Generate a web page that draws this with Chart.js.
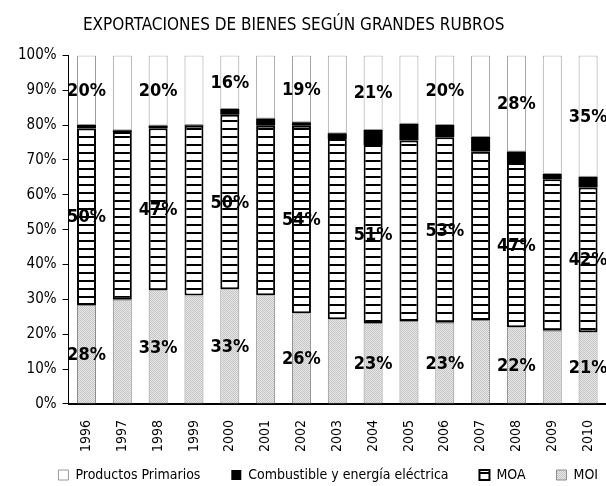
<!DOCTYPE html>
<html>
<head>
<meta charset="utf-8">
<script src="https://cdn.jsdelivr.net/npm/chart.js@4"></script>
<style>
    html, body { margin: 0; padding: 0; background: #fff; }
    canvas { display: block; }
</style>
</head>
<body>
<canvas id="chart" width="606" height="486"></canvas>
<script>
// Years on the x axis
const years = ['1996', '1997', '1998', '1999', '2000', '2001', '2002', '2003',
               '2004', '2005', '2006', '2007', '2008', '2009', '2010'];

// Share of each category (%)
const moi  = [28.4, 29.9, 32.6, 31.1, 32.9, 31.2, 26.0, 24.3, 23.2, 23.8, 23.3, 24.1, 22.0, 21.0, 20.6];
const moa  = [50.6, 48.1, 46.5, 48.7, 50.1, 48.6, 53.8, 51.7, 51.1, 51.8, 53.2, 48.3, 47.1, 43.5, 41.5];
const comb = [1.0, 0.5, 0.8, 0.2, 1.6, 2.1, 1.0, 1.7, 4.3, 4.8, 3.5, 4.2, 3.3, 1.5, 3.1];
const prim = [20.0, 21.5, 20.1, 20.0, 15.4, 18.1, 19.2, 22.3, 21.4, 19.6, 20.0, 23.4, 27.6, 34.0, 34.8];

// Labels printed on the bars (only every other year)
const moiLabels  = [28, null, 33, null, 33, null, 26, null, 23, null, 23, null, 22, null, 21];
const moaLabels  = [50, null, 47, null, 50, null, 54, null, 51, null, 53, null, 47, null, 42];
const primLabels = [20, null, 20, null, 16, null, 19, null, 21, null, 20, null, 28, null, 35];

const yTicks = [0, 10, 20, 30, 40, 50, 60, 70, 80, 90, 100];

const FONT = "'Liberation Sans Narrow', 'DejaVu Sans Condensed', 'Liberation Sans', sans-serif";

const canvas = document.getElementById('chart');
const ctx = canvas.getContext('2d');

// Horizontal stripes for MOA
function stripePattern() {
    const c = document.createElement('canvas');
    c.width = 8; c.height = 8;
    const g = c.getContext('2d');
    g.fillStyle = '#fff';
    g.fillRect(0, 0, 8, 8);
    g.fillStyle = '#000';
    g.fillRect(0, 0, 8, 2);
    return ctx.createPattern(c, 'repeat');
}

// Fine grey dots for MOI
function dotPattern() {
    const c = document.createElement('canvas');
    c.width = 2; c.height = 2;
    const g = c.getContext('2d');
    g.fillStyle = '#e8e8e8';
    g.fillRect(0, 0, 2, 2);
    g.fillStyle = '#c4c4c4';
    g.fillRect(0, 0, 1, 1);
    g.fillRect(1, 1, 1, 1);
    return ctx.createPattern(c, 'repeat');
}

// Draws the percentage in the middle of each labelled segment
const segmentLabels = {
    id: 'segmentLabels',
    afterDatasetsDraw(chart) {
        const c = chart.ctx;
        c.save();
        c.font = 'bold 18px ' + FONT;
        c.fillStyle = '#000';
        c.textAlign = 'center';
        c.textBaseline = 'middle';
        chart.data.datasets.forEach((ds, i) => {
            if (!ds.barLabels) return;
            chart.getDatasetMeta(i).data.forEach((bar, j) => {
                const val = ds.barLabels[j];
                if (val == null) return;
                const p = bar.getProps(['x', 'y', 'base'], true);
                c.fillText(val + '%', p.x, (p.y + p.base) / 2 + 1);
            });
        });
        c.restore();
    }
};

// Legend sits a bit lower than Chart.js puts it
const legendNudge = {
    id: 'legendNudge',
    afterInit(chart) {
        const lg = chart.legend;
        if (!lg) return;
        const fit = lg.fit;
        lg.fit = function () {
            fit.call(this);
            this.height -= 6;
        };
    }
};

new Chart(canvas, {
    type: 'bar',
    data: {
        labels: years,
        datasets: [
            {
                label: 'MOI',
                data: moi,
                barLabels: moiLabels,
                backgroundColor: dotPattern(),
                borderColor: '#8c8c8c',
                borderWidth: 1,
                borderSkipped: false
            },
            {
                label: 'MOA',
                data: moa,
                barLabels: moaLabels,
                backgroundColor: stripePattern(),
                borderColor: '#000',
                borderWidth: 2,
                borderSkipped: false
            },
            {
                label: 'Combustible y energía eléctrica',
                data: comb,
                backgroundColor: '#000',
                borderColor: '#000',
                borderWidth: 0
            },
            {
                label: 'Productos Primarios',
                data: prim,
                barLabels: primLabels,
                backgroundColor: '#fff',
                borderColor: '#9a9a9a',
                borderWidth: 1,
                borderSkipped: false
            }
        ]
    },
    options: {
        responsive: false,
        animation: false,
        layout: { padding: { left: 12, right: 0, top: 0, bottom: 0 } },
        datasets: {
            bar: { categoryPercentage: 1, barPercentage: 0.53 }
        },
        scales: {
            x: {
                stacked: true,
                grid: { display: false },
                border: { display: true, color: '#000', width: 2 },
                ticks: {
                    color: '#000',
                    font: { family: FONT, size: 14 },
                    minRotation: 90,
                    maxRotation: 90,
                    padding: 8
                },
                // let the last bar reach the right edge
                afterFit: scale => { scale.paddingRight = 0; }
            },
            y: {
                stacked: true,
                min: 0,
                max: 100,
                afterBuildTicks: axis => { axis.ticks = yTicks.map(v => ({ value: v })); },
                grid: {
                    drawOnChartArea: false,
                    drawTicks: true,
                    tickLength: 6,
                    color: '#000'
                },
                border: { display: true, color: '#000', width: 1 },
                ticks: {
                    color: '#000',
                    font: { family: FONT, size: 15 },
                    padding: 6,
                    callback: v => v + '%'
                }
            }
        },
        plugins: {
            title: {
                display: true,
                // trailing spaces pull the centred title a little to the left, as in the original
                text: 'EXPORTACIONES DE BIENES SEGÚN GRANDES RUBROS\u2003\u2003',
                color: '#000',
                font: { family: FONT, size: 17, weight: 'normal' },
                padding: { top: 15, bottom: 20 }
            },
            legend: {
                position: 'bottom',
                align: 'end',
                reverse: true,
                labels: {
                    color: '#000',
                    font: { family: FONT, size: 14 },
                    boxWidth: 10,
                    boxHeight: 10,
                    padding: 8,
                    generateLabels(chart) {
                        const items = Chart.defaults.plugins.legend.labels.generateLabels(chart);
                        // widen the gap between items, not after the last one
                        items.forEach(it => { if (it.datasetIndex !== 0) it.text += '\u2003\u2002 '; });
                        return items;
                    }
                }
            },
            tooltip: { enabled: false }
        }
    },
    plugins: [segmentLabels, legendNudge]
});
</script>
</body>
</html>
